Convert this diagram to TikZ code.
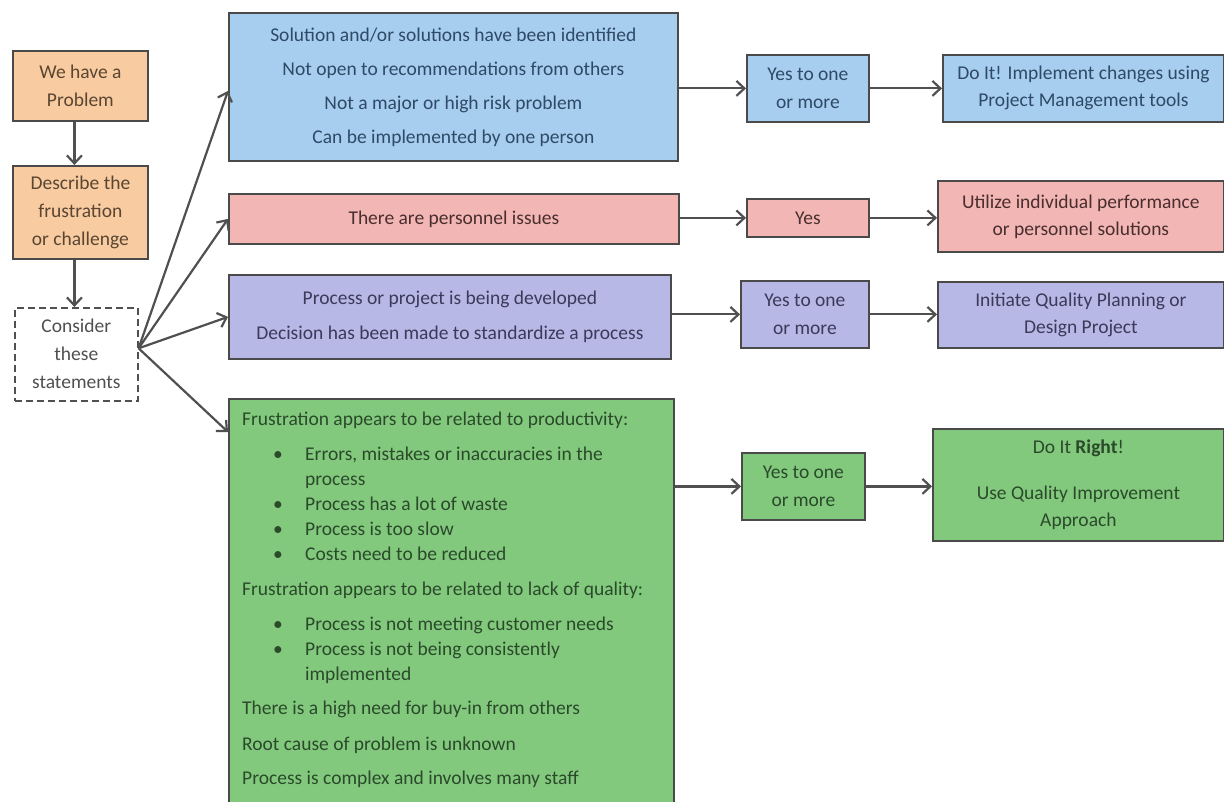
\documentclass[tikz,border=0pt]{standalone}
\usepackage{fontspec}
\setmainfont{Carlito}
\usetikzlibrary{positioning,arrows.meta}
\definecolor{peach}{HTML}{F8CBA0}
\definecolor{sky}{HTML}{A7CDEF}
\definecolor{rose}{HTML}{F2B6B5}
\definecolor{lilac}{HTML}{B7B8E6}
\definecolor{leaf}{HTML}{82C97E}
\definecolor{edge}{HTML}{4A4A4A}
\definecolor{wire}{HTML}{505050}
\definecolor{otext}{HTML}{5A4632}
\definecolor{stext}{HTML}{2E4A66}
\definecolor{rtext}{HTML}{4A2E2E}
\definecolor{ltext}{HTML}{3A3A5A}
\definecolor{gtext}{HTML}{2A4A2A}
\newcommand{\bul}[1]{\hspace*{31pt}\makebox[32pt][l]{\textbullet}#1}
\newcommand{\ind}[1]{\hspace*{63pt}#1}
\tikzset{
  box/.style={draw=edge, line width=1.8pt, align=center, inner sep=3pt, anchor=north west,
    font=\fontsize{19.5}{28}\selectfont},
  obox/.style={box, fill=peach, text=otext},
  sbox/.style={box, fill=sky, text=stext},
  rbox/.style={box, fill=rose, text=rtext},
  lbox/.style={box, fill=lilac, text=ltext},
  gbox/.style={box, fill=leaf, text=gtext},
  dbox/.style={box, draw=wire, line width=1.6pt, fill=white, text=wire, dash pattern=on 7pt off 4pt},
  flow/.style={-{Straight Barb[length=8pt,width=15pt]}, draw=wire, line width=2.2pt},
}
\begin{document}
\begin{tikzpicture}[x=1pt, y=-1pt]
  \useasboundingbox (0,0) rectangle (1224,802);
  \node[obox, minimum width=135, minimum height=70] (prob) at (12,50) {We have a\\Problem};
  \node[obox, minimum width=135, minimum height=93] (desc) at (12,165) {Describe the\\frustration\\or challenge};
  \node[dbox, minimum width=123, minimum height=93] (cons) at (14,307) {Consider\\these\\statements};

  \node[sbox, minimum width=449, minimum height=148, font=\fontsize{19.5}{34}\selectfont] (sol) at (228,12)
    {Solution and/or solutions have been identified\\Not open to recommendations from others\\Not a major or high risk problem\\Can be implemented by one person};
  \node[sbox, minimum width=122, minimum height=67] (solyes) at (746,54) {Yes to one\\or more};
  \node[sbox, minimum width=281, minimum height=67, font=\fontsize{19.5}{27}\selectfont] (soldo) at (942,54)
    {Do It! Implement changes using\\Project Management tools};

  \node[rbox, minimum width=450, minimum height=50] (pers) at (228,193) {There are personnel issues};
  \node[rbox, minimum width=122, minimum height=38] (persyes) at (746,198) {Yes};
  \node[rbox, minimum width=286, minimum height=71, font=\fontsize{19.5}{27}\selectfont] (persdo) at (937,180)
    {Utilize individual performance\\or personnel solutions};

  \node[lbox, minimum width=442, minimum height=84, font=\fontsize{19.5}{35}\selectfont] (proc) at (228,274)
    {Process or project is being developed\\Decision has been made to standardize a process};
  \node[lbox, minimum width=128, minimum height=67] (procyes) at (740,280) {Yes to one\\or more};
  \node[lbox, minimum width=286, minimum height=66, font=\fontsize{19.5}{27}\selectfont] (procdo) at (937,281)
    {Initiate Quality Planning or\\Design Project};

  \node[gbox, minimum width=445, minimum height=430] (prod) at (228,398) {};
  \node[anchor=north west, inner sep=0pt, align=left, text=gtext, font=\fontsize{19.5}{25}\selectfont] (prodtxt) at (242,412)
    {Frustration appears to be related to productivity:\\[10pt]
     \bul{Errors, mistakes or inaccuracies in the}\\
     \ind{process}\\
     \bul{Process has a lot of waste}\\
     \bul{Process is too slow}\\
     \bul{Costs need to be reduced}\\[10pt]
     Frustration appears to be related to lack of quality:\\[10pt]
     \bul{Process is not meeting customer needs}\\
     \bul{Process is not being consistently}\\
     \ind{implemented}\\[9pt]
     There is a high need for buy-in from others\\[11pt]
     Root cause of problem is unknown\\[9pt]
     Process is complex and involves many staff};
  \node[gbox, minimum width=123, minimum height=67] (prodyes) at (741,452) {Yes to one\\or more};
  \node[gbox, minimum width=291, minimum height=112, font=\fontsize{19.5}{27}\selectfont] (proddo) at (932,428)
    {Do It \textbf{Right}!\\[19pt]Use Quality Improvement\\Approach};

  \draw[flow] ([xshift=-6pt]prob.south) -- ([xshift=-6pt]prob.south |- desc.north);
  \draw[flow] ([xshift=-6pt]desc.south) -- ([xshift=-6pt]desc.south |- cons.north);
  \draw[flow] ([yshift=6pt]cons.east) -- ([yshift=-4pt]sol.west);
  \draw[flow] ([yshift=6pt]cons.east) -- (pers.west);
  \draw[flow] ([yshift=6pt]cons.east) -- (proc.west);
  \draw[flow] ([yshift=6pt]cons.east) -- ([yshift=-34pt]prod.north west);
  \draw[flow] (solyes.west -| sol.east) -- (solyes.west);
  \draw[flow] (solyes.east) -- (solyes.east -| soldo.west);
  \draw[flow] (persyes.west -| pers.east) -- (persyes.west);
  \draw[flow] (persyes.east) -- (persyes.east -| persdo.west);
  \draw[flow] (procyes.west -| proc.east) -- (procyes.west);
  \draw[flow] (procyes.east) -- (procyes.east -| procdo.west);
  \draw[flow] (prodyes.west -| prod.east) -- (prodyes.west);
  \draw[flow] (prodyes.east) -- (prodyes.east -| proddo.west);
\end{tikzpicture}
\end{document}
